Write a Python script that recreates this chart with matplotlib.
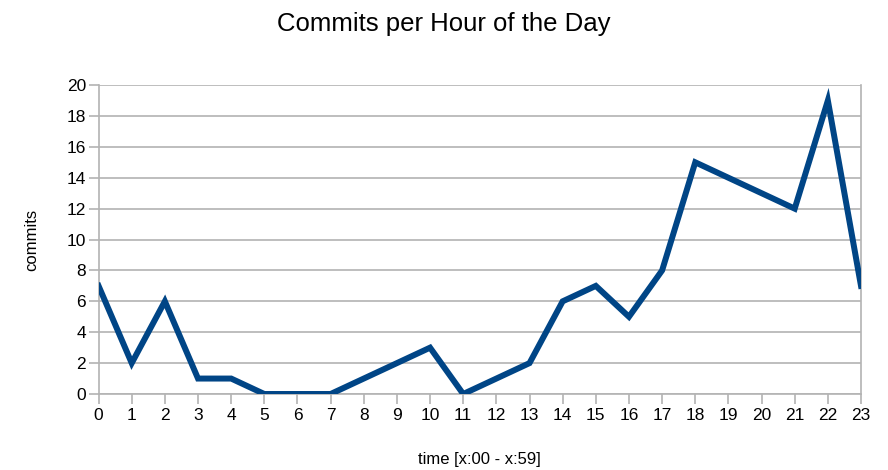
import matplotlib.pyplot as plt

plt.rcParams['font.family'] = ['Liberation Sans', 'DejaVu Sans']

hours = list(range(24))
commits = [7, 2, 6, 1, 1, 0, 0, 0, 1, 2, 3, 0, 1, 2, 6, 7, 5, 8, 15, 14, 13, 12, 19, 7]

fig = plt.figure(figsize=(8.88, 4.7), dpi=100)
ax = fig.add_axes([0.111, 0.1617, 0.8586, 0.6573])

grid_col = '#b3b3b3'
ax.plot(hours, commits, color='#004586', linewidth=4.3, solid_joinstyle='miter', zorder=3)

ax.set_xlim(0, 23)
ax.set_ylim(0, 20)
ax.set_xticks(hours)
ax.set_yticks(range(0, 21, 2))
ax.yaxis.grid(True, color=grid_col, linewidth=1.2)
ax.set_axisbelow(True)

ax.spines['top'].set_visible(False)
for side in ['left', 'right', 'bottom']:
    ax.spines[side].set_color(grid_col)
    ax.spines[side].set_linewidth(1.2)

ax.tick_params(axis='both', colors=grid_col, labelcolor='black', labelsize=12.5,
               length=7, width=1.2)
ax.tick_params(axis='x', pad=3)
ax.tick_params(axis='y', pad=2)

ax.set_xlabel('time [x:00 - x:59]', fontsize=12, labelpad=21)
ax.set_ylabel('commits', fontsize=12, labelpad=20)
fig.suptitle('Commits per Hour of the Day', fontsize=18.5, y=0.975)

fig.savefig('out.png', dpi=100)
